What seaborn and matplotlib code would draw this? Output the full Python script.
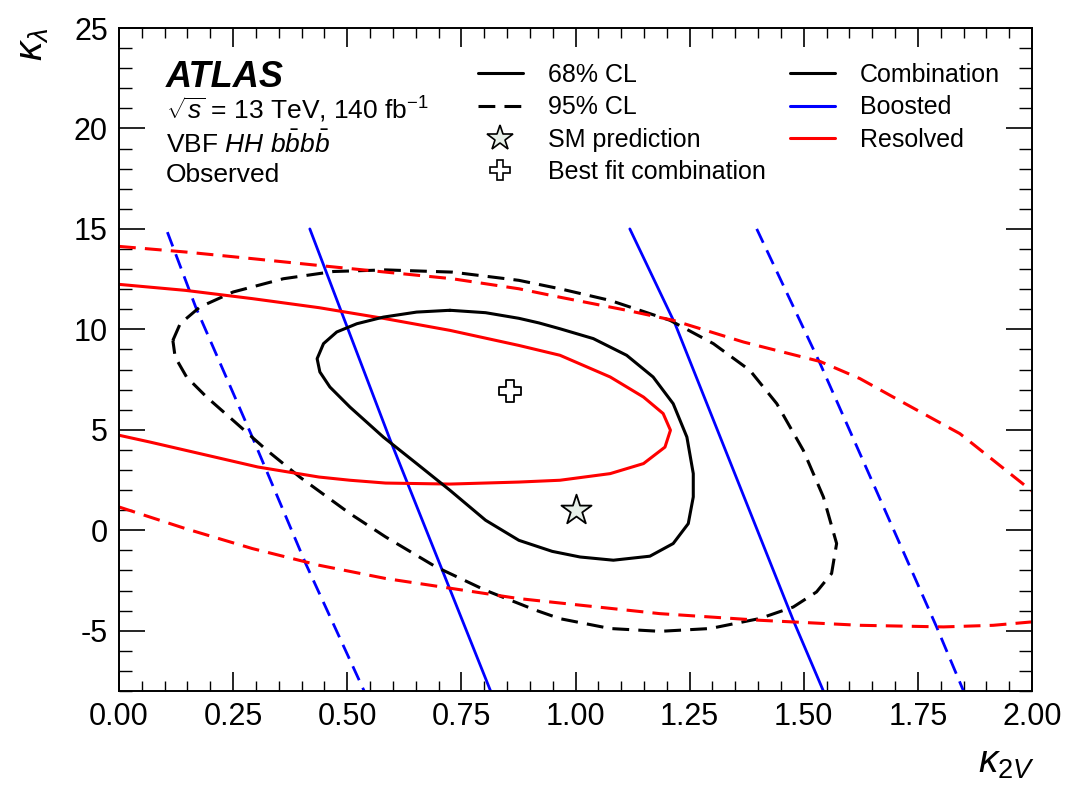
import numpy as np
import pandas as pd
import seaborn as sns
import matplotlib
matplotlib.use("Agg")
import matplotlib.pyplot as plt
from matplotlib.lines import Line2D
from matplotlib.ticker import AutoMinorLocator

# ---------------- data ----------------
# Combination 68% CL (closed)
comb68_x = [0.725, 0.652, 0.579, 0.521, 0.477, 0.448, 0.434, 0.440, 0.462, 0.506, 0.579, 0.652,
            0.725, 0.803, 0.876, 0.949, 1.010, 1.083, 1.163, 1.214, 1.247, 1.258, 1.258, 1.244,
            1.214, 1.170, 1.112, 1.039, 0.966, 0.920, 0.876, 0.803, 0.725]
comb68_y = [10.95, 10.86, 10.61, 10.28, 9.87, 9.29, 8.54, 7.88, 7.13, 6.13, 4.64, 3.32,
            1.99, 0.50, -0.50, -1.05, -1.33, -1.49, -1.29, -0.66, 0.33, 1.66, 2.82, 4.64,
            6.30, 7.63, 8.71, 9.54, 10.03, 10.32, 10.55, 10.83, 10.95]
# Combination 95% CL (closed)
comb95_x = [0.118, 0.134, 0.177, 0.250, 0.360, 0.470, 0.584, 0.730, 0.876, 0.966, 1.076, 1.207,
            1.302, 1.382, 1.441, 1.499, 1.543, 1.572, 1.561, 1.528, 1.477, 1.404, 1.295, 1.185,
            1.076, 0.966, 0.913, 0.803, 0.694, 0.584, 0.506, 0.396, 0.324, 0.250, 0.192, 0.148,
            0.123, 0.118]
comb95_y = [9.45, 10.28, 11.11, 11.86, 12.52, 12.88, 12.96, 12.85, 12.44, 12.02, 11.44, 10.45,
            9.29, 7.96, 6.30, 3.98, 1.66, -0.66, -2.15, -3.07, -3.82, -4.39, -4.89, -5.03,
            -4.89, -4.40, -3.98, -2.99, -1.82, -0.33, 0.83, 2.65, 3.98, 5.47, 6.63, 7.63,
            8.62, 9.45]
# Resolved 68% CL (open to the left)
res68_x = [0.0, 0.068, 0.146, 0.292, 0.438, 0.584, 0.725, 0.876, 0.966, 1.076, 1.149, 1.192,
           1.208, 1.196, 1.149, 1.076, 0.966, 0.876, 0.725, 0.584, 0.506, 0.438, 0.304, 0.146,
           0.068, 0.0]
res68_y = [12.24, 12.10, 11.94, 11.53, 11.08, 10.53, 9.95, 9.20, 8.71, 7.63, 6.63, 5.81,
           4.98, 4.14, 3.32, 2.82, 2.49, 2.40, 2.30, 2.35, 2.49, 2.65, 3.15, 3.98,
           4.39, 4.73]
# Resolved 95% CL (two open branches)
res95_up_x = [0.0, 0.146, 0.292, 0.438, 0.584, 0.730, 0.876, 0.966, 1.112, 1.214, 1.368, 1.536,
              1.623, 1.696, 1.842, 2.0]
res95_up_y = [14.13, 13.85, 13.52, 13.18, 12.85, 12.52, 12.02, 11.60, 10.95, 10.45, 9.37, 8.40,
              7.55, 6.63, 4.81, 1.95]
res95_lo_x = [0.0, 0.146, 0.292, 0.438, 0.584, 0.730, 0.876, 0.966, 1.185, 1.404, 1.623, 1.806,
              1.915, 2.0]
res95_lo_y = [1.16, 0.08, -0.91, -1.74, -2.40, -2.90, -3.40, -3.62, -4.15, -4.48, -4.73, -4.81,
              -4.73, -4.56]
# Boosted 68% CL (two band edges)
boost68_l_x = [0.418, 0.594, 0.814]
boost68_l_y = [15.0, 4.5, -8.0]
boost68_r_x = [1.119, 1.218, 1.477, 1.543]
boost68_r_y = [15.0, 10.28, -4.48, -8.0]
# Boosted 95% CL
boost95_l_x = [0.106, 0.168, 0.292, 0.409, 0.537]
boost95_l_y = [14.84, 11.11, 4.64, -1.66, -8.0]
boost95_r_x = [1.397, 1.536, 1.791, 1.850]
boost95_r_y = [15.0, 8.29, -4.81, -8.0]
# points
best_fit = (0.857, 6.92)
sm_point = (1.0, 1.0)

x_ticks = [0.00, 0.25, 0.50, 0.75, 1.00, 1.25, 1.50, 1.75, 2.00]
y_ticks = [-5, 0, 5, 10, 15, 20, 25]

# ---------------- style ----------------
sns.set_theme(style="ticks")
plt.rcParams['font.family'] = ['Liberation Sans', 'DejaVu Sans']
plt.rcParams['mathtext.fontset'] = 'custom'
plt.rcParams['mathtext.rm'] = 'Liberation Sans'
plt.rcParams['mathtext.it'] = 'Liberation Sans:italic'
plt.rcParams['mathtext.bf'] = 'Liberation Sans:bold'
plt.rcParams['axes.unicode_minus'] = False
for k in ['text.color', 'axes.labelcolor', 'xtick.color', 'ytick.color', 'axes.edgecolor']:
    plt.rcParams[k] = 'black'

fig = plt.figure(figsize=(10.65, 7.85), dpi=100)
ax = fig.add_axes([119/1065, 1-691/785, (1032-119)/1065, (691-28)/785])

BLACK, BLUE, RED = '#000000', '#0000ff', '#ff0000'
DASH = (0, (5.5, 3.0))

def draw(xs, ys, color, ls, lw):
    df = pd.DataFrame({'x': xs, 'y': ys})
    sns.lineplot(data=df, x='x', y='y', sort=False, estimator=None, color=color,
                 linestyle=ls, linewidth=lw, ax=ax, legend=False)

draw(boost95_l_x, boost95_l_y, BLUE, DASH, 2.0)
draw(boost95_r_x, boost95_r_y, BLUE, DASH, 2.0)
draw(boost68_l_x, boost68_l_y, BLUE, '-', 2.0)
draw(boost68_r_x, boost68_r_y, BLUE, '-', 2.0)
draw(comb95_x, comb95_y, BLACK, DASH, 2.2)
draw(res95_up_x, res95_up_y, RED, DASH, 2.2)
draw(res95_lo_x, res95_lo_y, RED, DASH, 2.2)
draw(res68_x, res68_y, RED, '-', 2.2)
draw(comb68_x, comb68_y, BLACK, '-', 2.2)

sns.scatterplot(x=[best_fit[0]], y=[best_fit[1]], marker='P', s=260, facecolor='white',
                edgecolor='black', linewidth=1.3, ax=ax, zorder=5)
sns.scatterplot(x=[sm_point[0]], y=[sm_point[1]], marker='*', s=520, facecolor='#e6efe8',
                edgecolor='black', linewidth=1.3, ax=ax, zorder=5)

ax.set_xlim(0, 2)
ax.set_ylim(-8, 25)
ax.set_xticks(x_ticks)
ax.set_xticklabels([f"{t:.2f}" for t in x_ticks])
ax.set_yticks(y_ticks)
ax.set_yticklabels([str(t) for t in y_ticks])
ax.xaxis.set_minor_locator(AutoMinorLocator(5))
ax.yaxis.set_minor_locator(AutoMinorLocator(5))
for s in ax.spines.values():
    s.set_linewidth(1.4)
    s.set_color('black')
ax.tick_params(axis='x', which='major', direction='in', top=True, bottom=True,
               length=14, width=1.2, labelsize=22, pad=8, colors='black')
ax.tick_params(axis='x', which='minor', direction='in', top=True, bottom=True,
               length=7, width=1.0)
ax.tick_params(axis='y', which='major', direction='in', left=True, right=True,
               length=19, width=1.2, labelsize=22, pad=8, colors='black')
ax.tick_params(axis='y', which='minor', direction='in', left=True, right=True,
               length=9.5, width=1.0)

ax.set_xlabel(r'$\kappa_{2V}$', fontsize=28, loc='right')
ax.xaxis.set_label_coords(1.003, -0.082)
ax.set_ylabel(r'$\kappa_{\lambda}$', fontsize=28, loc='top')
ax.yaxis.set_label_coords(-0.074, 1.0)

# ATLAS label block
ax.text(0.051, 0.952, 'ATLAS', transform=ax.transAxes, fontsize=26, fontweight='bold',
        fontstyle='italic', va='top', ha='left')
ax.text(0.051, 0.899, r'$\sqrt{s}$ = 13 TeV, 140 fb$^{-1}$', transform=ax.transAxes,
        fontsize=19, va='top', ha='left')
ax.text(0.051, 0.846, r'VBF $HH$ $b\bar{b}b\bar{b}$', transform=ax.transAxes,
        fontsize=19, va='top', ha='left')
ax.text(0.051, 0.797, 'Observed', transform=ax.transAxes, fontsize=19, va='top', ha='left')

# legends
h1 = [Line2D([], [], color='black', lw=2.2, ls='-'),
      Line2D([], [], color='black', lw=2.2, ls=DASH),
      Line2D([], [], color='none', marker='*', ms=19, mfc='#e6efe8', mec='black', mew=1.2),
      Line2D([], [], color='none', marker='P', ms=14, mfc='white', mec='black', mew=1.2)]
l1 = ax.legend(h1, ['68% CL', '95% CL', 'SM prediction', 'Best fit combination'],
               loc='upper left', bbox_to_anchor=(0.393, 0.947), frameon=False, fontsize=18,
               handlelength=1.8, handletextpad=1.0, labelspacing=0.33, borderpad=0,
               borderaxespad=0)
ax.add_artist(l1)
h2 = [Line2D([], [], color=BLACK, lw=2.2), Line2D([], [], color=BLUE, lw=2.2),
      Line2D([], [], color=RED, lw=2.2)]
ax.legend(h2, ['Combination', 'Boosted', 'Resolved'], loc='upper left',
          bbox_to_anchor=(0.735, 0.947), frameon=False, fontsize=18,
          handlelength=1.8, handletextpad=1.0, labelspacing=0.33, borderpad=0,
          borderaxespad=0)

fig.savefig('out.png', dpi=100)
